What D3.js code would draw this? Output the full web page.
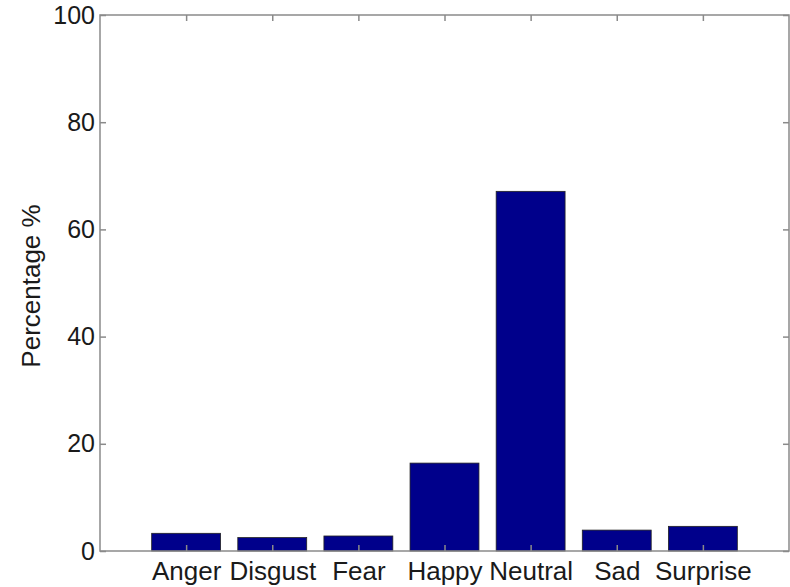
<!DOCTYPE html>
<html><head><meta charset="utf-8">
<script src="https://cdn.jsdelivr.net/npm/d3@7"></script>
<style>body{margin:0;background:#fff}svg{display:block}text{font-family:"Liberation Sans",Arial,Helvetica,sans-serif}</style>
</head><body>
<script>
const categories = ["Anger","Disgust","Fear","Happy","Neutral","Sad","Surprise"];
const values = [3.3, 2.5, 2.8, 16.4, 67.1, 3.9, 4.6];
const yTicks = [0,20,40,60,80,100];

const W = 790, H = 587;
const m = {left:100, right:1, top:15, bottom:36};
const iw = W - m.left - m.right, ih = H - m.top - m.bottom;

const svg = d3.select("body").append("svg").attr("width",W).attr("height",H);
const g = svg.append("g").attr("transform",`translate(${m.left},${m.top})`);

const x = d3.scaleLinear().domain([0, categories.length+1]).range([0, iw]);
const y = d3.scaleLinear().domain([0,100]).range([ih, 0]);
const bw = x(0.8) - x(0);

g.selectAll("rect.bar").data(values).join("rect")
  .attr("class","bar")
  .attr("x",(d,i)=>x(i+1)-bw/2)
  .attr("width",bw)
  .attr("y",d=>y(d))
  .attr("height",d=>y(0)-y(d))
  .attr("fill","#00008b")
  .attr("stroke","#222")
  .attr("stroke-width",0.8);

const axColor = "#8a8a8a";
const tl = 6;
g.append("rect").attr("x",0).attr("y",0).attr("width",iw).attr("height",ih)
  .attr("fill","none").attr("stroke",axColor).attr("stroke-width",1.5);

const yAxis = g.append("g").call(d3.axisLeft(y).tickValues(yTicks).tickSize(-tl).tickPadding(5));
const yAxisR = g.append("g").attr("transform",`translate(${iw},0)`).call(d3.axisRight(y).tickValues(yTicks).tickSize(-tl).tickFormat(""));
const xAxis = g.append("g").attr("transform",`translate(0,${ih})`)
  .call(d3.axisBottom(x).tickValues(d3.range(1,categories.length+1)).tickSize(-tl).tickPadding(11).tickFormat(d=>categories[d-1]));
const xAxisT = g.append("g")
  .call(d3.axisTop(x).tickValues(d3.range(1,categories.length+1)).tickSize(-tl).tickFormat(""));

[yAxis,yAxisR,xAxis,xAxisT].forEach(a=>{
  a.select(".domain").remove();
  a.selectAll(".tick line").attr("stroke",axColor).attr("stroke-width",1.5);
  a.selectAll(".tick text").attr("fill","#1a1a1a").style("font-size","25px");
});
xAxis.selectAll(".tick text").style("font-size","26px");

svg.append("text")
  .attr("transform",`translate(40,${286}) rotate(-90)`)
  .attr("text-anchor","middle")
  .attr("fill","#1a1a1a")
  .style("font-size","26px")
  .text("Percentage %");
</script>
</body></html>
